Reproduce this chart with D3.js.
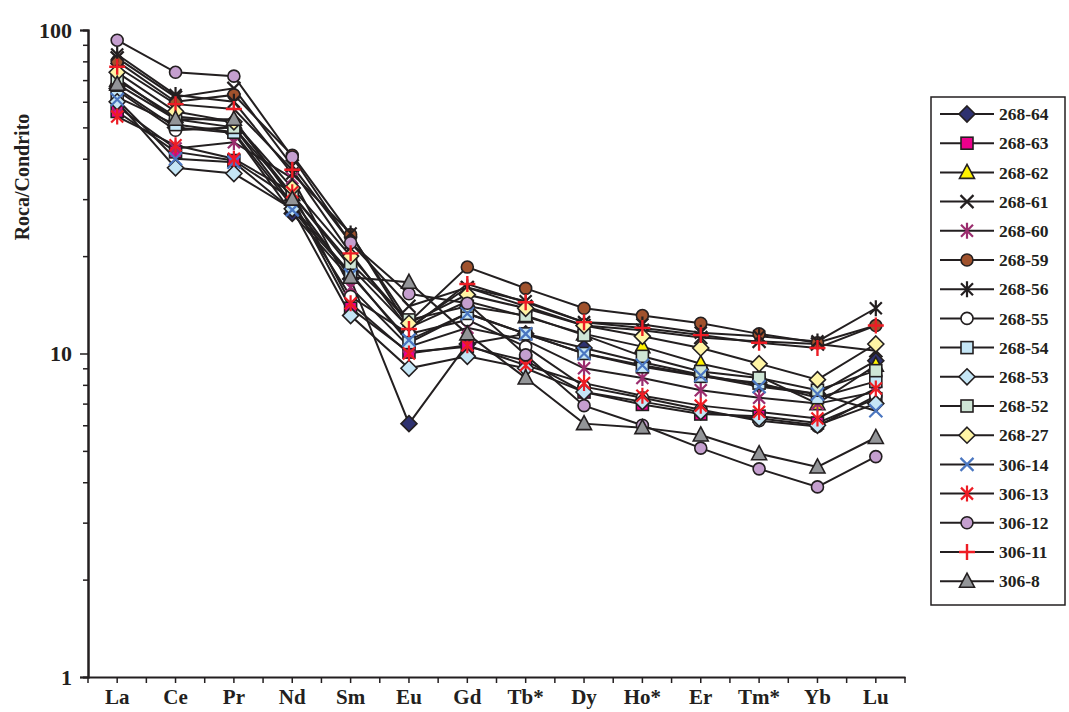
<!DOCTYPE html>
<html>
<head>
<meta charset="utf-8">
<script src="https://cdn.jsdelivr.net/npm/d3@7"></script>
<style>
  html, body { margin: 0; padding: 0; background: #fff; }
  svg { display: block; }
  text { font-family: "Liberation Serif", "Times New Roman", serif; font-weight: bold; fill: #231f20; }
</style>
</head>
<body>
<svg id="chart" width="1069" height="712"></svg>
<script>
// Chondrite-normalised REE patterns
const elements = ["La", "Ce", "Pr", "Nd", "Sm", "Eu", "Gd", "Tb*", "Dy", "Ho*", "Er", "Tm*", "Yb", "Lu"];
const yTickLabels = [1, 10, 100];

const s268_64 = [66, 50, 48, 27.1, 17, 6.07, 10.7, 11.5, 10.4, 9.4, 8.6, 8.0, 7.5, 9.5];
const s268_63 = [56, 42, 39.5, 30, 13.8, 10.1, 10.5, 9.5, 7.6, 6.96, 6.5, 6.4, 6.1, 7.25];
const s268_62 = [70, 54, 52, 31, 18.5, 12, 14.5, 13, 11.5, 10.5, 9.3, 8.5, 7.0, 9.2];
const s268_61 = [82, 62, 66, 38, 22, 14, 16, 14, 12.2, 11.8, 11.2, 10.9, 10.7, 10.2];
const s268_60 = [58, 43, 45, 34.8, 16, 10.5, 12.0, 11.0, 9.0, 8.4, 7.7, 7.3, 7.0, 7.6];
const s268_59 = [80, 60, 63, 41, 23.3, 12.5, 18.5, 15.9, 13.8, 13.1, 12.4, 11.5, 10.8, 12.2];
const s268_56 = [84, 63, 60, 36, 23.5, 12, 16, 14.5, 12.5, 12.3, 11.6, 11.3, 10.9, 13.8];
const s268_55 = [65, 49, 50, 29, 15, 11.5, 12.7, 10.5, 7.9, 7.3, 6.7, 6.2, 5.95, 7.4];
const s268_54 = [62, 51, 48.3, 28.5, 17.7, 10.8, 13.3, 11.5, 10.0, 9.1, 8.5, 8.1, 7.3, 8.2];
const s268_53 = [60, 37.5, 36, 28, 13.1, 9.0, 9.8, 9.0, 7.6, 7.1, 6.6, 6.3, 6.0, 7.0];
const s268_52 = [71, 53, 50, 31, 19, 12.7, 14, 13.1, 11.4, 9.8, 8.8, 8.4, 7.7, 8.85];
const s268_27 = [74, 56, 52, 32.5, 20, 12.4, 15.2, 13.8, 12.2, 11.3, 10.4, 9.3, 8.3, 10.7];
const s306_14 = [61, 40, 39, 27.8, 17.5, 11.0, 13.3, 11.5, 10.0, 9.2, 8.55, 7.9, 7.5, 6.65];
const s306_13 = [54, 44, 40, 31.5, 14.3, 10.0, 10.6, 9.2, 8.1, 7.4, 6.9, 6.6, 6.3, 7.8];
const s306_12 = [93, 74, 72, 40.5, 22, 15.3, 14.3, 9.9, 6.9, 6.0, 5.1, 4.4, 3.87, 4.8];
const s306_11 = [77, 59, 57, 37, 20.4, 11.9, 16.4, 14.4, 12.5, 12.0, 11.4, 10.8, 10.4, 12.2];
const s306_8  = [68, 53, 53, 30, 17.2, 16.6, 11.5, 8.4, 6.07, 5.9, 5.6, 4.9, 4.46, 5.5];

const series = [
  { name: "268-64", values: s268_64, shape: "diamond",  fill: "#2e3170" },
  { name: "268-63", values: s268_63, shape: "square",   fill: "#ec008c" },
  { name: "268-62", values: s268_62, shape: "triangle", fill: "#fff200" },
  { name: "268-61", values: s268_61, shape: "x",        fill: "#231f20" },
  { name: "268-60", values: s268_60, shape: "star",     fill: "#9b2d6e" },
  { name: "268-59", values: s268_59, shape: "circle",   fill: "#a0522d" },
  { name: "268-56", values: s268_56, shape: "star",     fill: "#231f20" },
  { name: "268-55", values: s268_55, shape: "circle",   fill: "#ffffff" },
  { name: "268-54", values: s268_54, shape: "square",   fill: "#c5e6f6" },
  { name: "268-53", values: s268_53, shape: "diamond",  fill: "#c5e6f6" },
  { name: "268-52", values: s268_52, shape: "square",   fill: "#cfe6d6" },
  { name: "268-27", values: s268_27, shape: "diamond",  fill: "#fff5a5" },
  { name: "306-14", values: s306_14, shape: "x",        fill: "#4a76c0" },
  { name: "306-13", values: s306_13, shape: "star",     fill: "#ed1c24" },
  { name: "306-12", values: s306_12, shape: "circle",   fill: "#c59fcf" },
  { name: "306-11", values: s306_11, shape: "plus",     fill: "#ed1c24" },
  { name: "306-8",  values: s306_8,  shape: "triangle", fill: "#939598" }
];

const svg = d3.select("#chart");
const ink = "#231f20";

const x = d3.scaleBand().domain(elements).range([88, 905]).padding(0);
const y = d3.scaleLog().domain([1, 100]).range([677, 30]);
const cx = d => x(d) + x.bandwidth() / 2;

// Marker drawing
function drawMarker(g, shape, fill, px, py) {
  const k = g.append("g").attr("transform", `translate(${px},${py})`);
  switch (shape) {
    case "circle":
      k.append("circle").attr("r", 6).attr("fill", fill).attr("stroke", ink).attr("stroke-width", 1.6);
      break;
    case "square":
      k.append("rect").attr("x", -6).attr("y", -6).attr("width", 12).attr("height", 12)
        .attr("fill", fill).attr("stroke", ink).attr("stroke-width", 1.6);
      break;
    case "diamond":
      k.append("path").attr("d", "M0,-8L8,0L0,8L-8,0Z").attr("fill", fill).attr("stroke", ink).attr("stroke-width", 1.6);
      break;
    case "triangle":
      k.append("path").attr("d", "M0,-8L7.5,6L-7.5,6Z").attr("fill", fill).attr("stroke", ink).attr("stroke-width", 1.6);
      break;
    case "x":
      k.append("path").attr("d", "M-6.5,-6.5L6.5,6.5M-6.5,6.5L6.5,-6.5").attr("stroke", fill).attr("stroke-width", 2.2).attr("fill", "none");
      break;
    case "star":
      k.append("path").attr("d", "M-6,-6L6,6M-6,6L6,-6M0,-8L0,8").attr("stroke", fill).attr("stroke-width", 2.2).attr("fill", "none");
      break;
    case "plus":
      k.append("path").attr("d", "M-8,0L8,0M0,-8L0,8").attr("stroke", fill).attr("stroke-width", 2.4).attr("fill", "none");
      break;
  }
}

// Y axis: decades labelled, minor ticks unlabelled
const minorTicks = [];
[1, 10].forEach(b => { for (let m = 2; m <= 9; m++) minorTicks.push(b * m); });

const yAxisMinor = svg.append("g").attr("transform", "translate(88,0)")
  .call(d3.axisLeft(y).tickValues(minorTicks).tickSize(5).tickFormat(""));
const yAxis = svg.append("g").attr("transform", "translate(88,0)")
  .call(d3.axisLeft(y).tickValues(yTickLabels).tickSize(8).tickPadding(8).tickFormat(d3.format("d")));
[yAxisMinor, yAxis].forEach(g => {
  g.select(".domain").attr("stroke", ink).attr("stroke-width", 2);
  g.selectAll(".tick line").attr("stroke", ink).attr("stroke-width", 1.5);
});
yAxis.selectAll(".tick text")
  .style("font-family", "'Liberation Serif', serif").style("font-weight", "bold")
  .style("font-size", "22px").attr("fill", ink);

// X axis: ticks at band edges and band centres
const xAxis = svg.append("g").attr("transform", "translate(0,677)")
  .call(d3.axisBottom(x).tickSize(0).tickPadding(12));
xAxis.select(".domain").attr("stroke", ink).attr("stroke-width", 2);
xAxis.selectAll(".tick text")
  .style("font-family", "'Liberation Serif', serif").style("font-weight", "bold")
  .style("font-size", "21px").attr("fill", ink);
const xTickPos = [];
elements.forEach(d => { xTickPos.push(x(d)); xTickPos.push(cx(d)); });
xTickPos.push(x.range()[1]);
xAxis.selectAll("line.minor").data(xTickPos).enter().append("line")
  .attr("class", "minor").attr("x1", d => d).attr("x2", d => d)
  .attr("y1", 0).attr("y2", 6).attr("stroke", ink).attr("stroke-width", 1.5);

// Y axis title
svg.append("text")
  .attr("transform", "translate(29,177) rotate(-90)")
  .attr("text-anchor", "middle")
  .style("font-size", "20px")
  .text("Roca/Condrito");

// Lines, then markers
const line = d3.line().x((v, i) => cx(elements[i])).y(v => y(v));
const plot = svg.append("g");
series.forEach(s => {
  plot.append("path").attr("d", line(s.values)).attr("fill", "none")
    .attr("stroke", ink).attr("stroke-width", 2);
});
series.forEach(s => {
  const g = plot.append("g");
  s.values.forEach((v, i) => drawMarker(g, s.shape, s.fill, cx(elements[i]), y(v)));
});

// Legend
const legend = svg.append("g");
legend.append("rect").attr("x", 931).attr("y", 97).attr("width", 134).attr("height", 508)
  .attr("fill", "#fff").attr("stroke", ink).attr("stroke-width", 1.5);
series.forEach((s, i) => {
  const ly = 114 + i * 29.2;
  legend.append("line").attr("x1", 940).attr("x2", 994).attr("y1", ly).attr("y2", ly)
    .attr("stroke", ink).attr("stroke-width", 2);
  drawMarker(legend, s.shape, s.fill, 967, ly);
  legend.append("text").attr("x", 999).attr("y", ly).attr("dy", "0.35em")
    .style("font-size", "17.5px").text(s.name);
});
</script>
</body>
</html>
